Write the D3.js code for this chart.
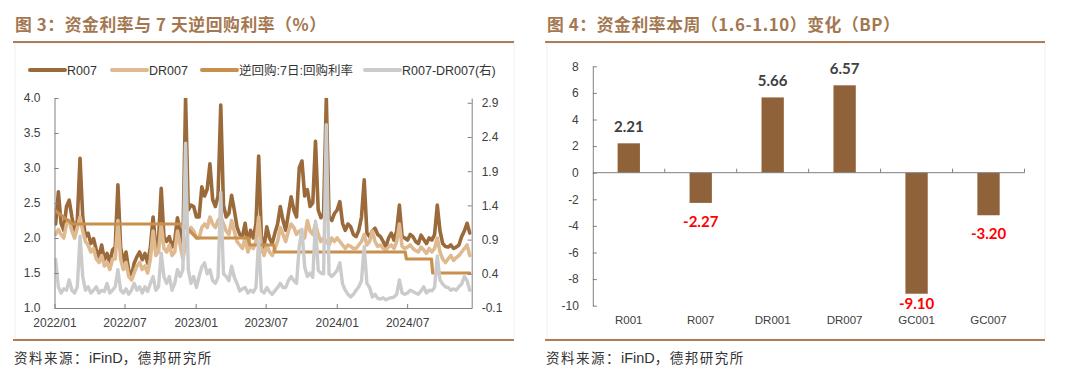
<!DOCTYPE html>
<html>
<head>
<meta charset="utf-8">
<script src="https://cdn.jsdelivr.net/npm/d3@7/dist/d3.min.js"></script>
<style>
  body { margin: 0; background: #fff; }
  svg text { font-family: "Liberation Sans", Arial, sans-serif; }
</style>
</head>
<body>
<svg id="chart" width="1080" height="385"></svg>
<script>
// ---- data: weekly samples from 2022-01-04 ----
const firstWeek = new Date(2022, 0, 4);

const r007 = [
  2.2, 2.66, 2.21, 2.11, 2.45, 2.54, 2.3, 2.1, 2.25, 3.14,
  2.3, 2.02, 2.07, 1.92, 1.99, 1.83, 1.73, 1.9, 1.69, 1.78,
  1.64, 1.83, 1.87, 2.76, 1.87, 1.64, 1.8, 1.54, 1.45, 1.64,
  1.73, 1.8, 1.69, 1.78, 1.64, 1.87, 2.3, 1.87, 1.97, 2.71,
  2.02, 1.95, 2.02, 1.87, 1.97, 2.29, 2.07, 1.87, 4.0, 2.4,
  2.47, 2.45, 2.3, 2.3, 2.73, 2.6, 2.7, 3.06, 2.55, 2.45,
  2.6, 3.9, 2.47, 2.3, 2.35, 2.61, 2.4, 2.16, 2.05, 2.02,
  2.21, 1.92, 2.11, 2.0, 2.2, 3.17, 2.02, 1.87, 2.16, 2.0,
  1.92, 2.07, 2.2, 2.45, 2.25, 2.11, 2.35, 2.59, 2.4, 2.3,
  3.0, 3.1, 2.6, 2.69, 2.45, 2.5, 3.38, 2.4, 2.29, 2.35,
  4.0, 2.3, 2.25, 2.35, 2.4, 2.52, 2.21, 2.11, 2.2, 2.16,
  2.05, 2.02, 2.11, 2.3, 2.83, 2.07, 2.02, 2.1, 2.14, 2.05,
  2.02, 1.95, 1.87, 2.0, 2.07, 1.97, 2.1, 2.47, 2.02, 2.0,
  1.97, 2.05, 2.02, 1.95, 1.92, 2.04, 1.98, 1.92, 2.0, 1.97,
  2.05, 2.47, 2.1, 1.92, 1.88, 1.87, 1.9, 1.85, 1.87, 1.9,
  2.02, 2.1, 2.21, 2.07
];

const dr007 = [
  2.05, 2.12, 2.05, 2.0, 2.2, 2.25, 2.1, 2.0, 2.15, 2.3,
  2.1, 1.95, 1.9, 1.8, 1.85, 1.7, 1.65, 1.75, 1.6, 1.65,
  1.55, 1.7, 1.7, 2.25, 1.7, 1.55, 1.65, 1.45, 1.4, 1.5,
  1.6, 1.65, 1.55, 1.6, 1.5, 1.7, 2.1, 1.75, 1.8, 2.2,
  1.85, 1.8, 1.9, 1.75, 1.8, 2.1, 1.9, 1.7, 1.9, 2.1,
  2.15, 2.1, 2.0, 2.0, 2.15, 2.2, 2.15, 2.3, 2.2, 2.15,
  2.25, 2.3, 2.2, 2.1, 2.05, 2.25, 2.1, 1.95, 1.9, 1.85,
  2.0, 1.8, 1.9, 1.85, 1.95, 2.3, 1.85, 1.75, 1.9, 1.8,
  1.75, 1.85, 1.95, 2.15, 2.05, 1.95, 2.1, 2.2, 2.15, 2.05,
  2.1, 2.05, 2.0, 2.25, 2.1, 2.05, 2.2, 2.05, 1.95, 2.0,
  1.95, 1.9, 2.0, 1.95, 2.0, 1.95, 1.9, 1.85, 1.9, 1.88,
  1.85, 1.85, 1.9, 1.95, 2.05, 1.9, 1.95, 2.1, 1.95, 1.88,
  1.9, 1.85, 1.83, 1.87, 1.9, 1.85, 1.95, 2.2, 1.88, 1.85,
  1.87, 1.9, 1.85, 1.82, 1.8, 1.87, 1.83, 1.78, 1.85, 1.8,
  1.85, 2.0, 1.8, 1.7, 1.65, 1.7, 1.75, 1.68, 1.72, 1.75,
  1.8, 1.85, 1.9, 1.75
];

// R007-DR007, right axis
const spread = [
  0.61, 0.21, 0.12, 0.18, 0.16, 0.31, 0.16, 0.12, 0.21, 0.95,
  0.36, 0.16, 0.21, 0.12, 0.16, 0.21, 0.12, 0.16, 0.14, 0.26,
  0.12, 0.16, 0.21, 0.46, 0.16, 0.12, 0.18, 0.1, 0.16, 0.26,
  0.16, 0.21, 0.12, 0.21, 0.14, 0.26, 0.36, 0.16, 0.21, 0.7,
  0.36, 0.26, 0.36, 0.16, 0.26, 0.46, 0.36, 0.46, 2.31, 0.46,
  0.26, 0.36, 0.2, 0.36, 0.5, 0.56, 0.4, 0.46, 0.3, 0.26,
  0.35, 1.59, 0.4, 0.36, 0.3, 0.51, 0.35, 0.26, 0.15, 0.18,
  0.2, 0.12, 0.16, 0.13, 0.2, 0.9, 0.15, 0.12, 0.2, 0.14,
  0.1, 0.15, 0.2, 0.26, 0.2, 0.2, 0.3, 0.36, 0.3, 0.26,
  0.8, 1.05, 0.5, 0.36, 0.41, 0.35, 1.17, 0.45, 0.41, 0.4,
  2.58, 0.4, 0.36, 0.4, 0.45, 0.56, 0.25, 0.16, 0.1, 0.06,
  0.1, 0.16, 0.21, 0.3, 0.8, 0.26, 0.2, 0.06, 0.1, 0.04,
  0.03, 0.05, 0.02, 0.04, 0.05, 0.06, 0.1, 0.31, 0.12, 0.1,
  0.12, 0.16, 0.14, 0.12, 0.1, 0.15, 0.21, 0.12, 0.16, 0.15,
  0.2, 0.66, 0.31, 0.25, 0.21, 0.2, 0.16, 0.18, 0.16, 0.21,
  0.25, 0.36, 0.3, 0.16
];

// 逆回购:7日:回购利率
const repoDates = ["2022-01-01", "2022-02-17", "2022-11-29", "2023-01-04", "2023-05-18", "2023-05-21",
  "2023-07-22", "2023-07-25", "2024-06-26", "2024-06-29", "2024-09-02", "2024-09-05", "2024-12-10"];
const repoRate = [2.4, 2.2, 2.2, 2.0, 2.0, 1.9, 1.9, 1.8, 1.8, 1.7, 1.7, 1.5, 1.5];

const xTickDates = ["2022-01-01", "2022-07-01", "2023-01-01", "2023-07-01", "2024-01-01", "2024-07-01"];
const leftTicks = [1.0, 1.5, 2.0, 2.5, 3.0, 3.5, 4.0];
const rightTicks = [-0.1, 0.4, 0.9, 1.4, 1.9, 2.4, 2.9];

// 图4
const barCats = ["R001", "R007", "DR001", "DR007", "GC001", "GC007"];
const barVals = [2.21, -2.27, 5.66, 6.57, -9.10, -3.20];
const barTicks = [-10, -8, -6, -4, -2, 0, 2, 4, 6, 8];

// ---- styles ----
const BROWN_TITLE = "#a3774f";
const RULE = "#b07d57";
const AXIS = "#808080";
const TXT = "#404040";
const C_R007 = "#9b6a3b";
const C_DR007 = "#dfb98f";
const C_REPO = "#c88f4d";
const C_SPREAD = "#cbcbcb";
const C_BAR = "#8f6239";

// plain hyphen for negatives, like the source
const fmt1 = v => d3.format(".1f")(v).replace("\u2212", "-");
const fmt0 = v => d3.format("d")(v).replace("\u2212", "-");

const svg = d3.select("#chart");
const parse = d3.timeParse("%Y-%m-%d");

// panel chrome: title, top/bottom rules, faint frame, source
function panel(x0, x1, title) {
  svg.append("rect")
    .attr("x", x0 + 2).attr("y", 43).attr("width", x1 - x0 - 2).attr("height", 296)
    .attr("fill", "none").attr("stroke", "#f0f0f0");
  svg.append("line").attr("x1", x0).attr("x2", x1).attr("y1", 42).attr("y2", 42)
    .attr("stroke", RULE).attr("stroke-width", 2);
  svg.append("line").attr("x1", x0).attr("x2", x1).attr("y1", 340).attr("y2", 340)
    .attr("stroke", RULE).attr("stroke-width", 2);
  svg.append("text").attr("x", x0 + 2).attr("y", 31)
    .attr("fill", BROWN_TITLE).attr("font-size", 16.8).attr("font-weight", "bold")
    .attr("letter-spacing", 0.6)
    .style("font-family", "'Noto Sans CJK SC', sans-serif")
    .text(title);
  const src = svg.append("text").attr("x", x0 + 1).attr("y", 363)
    .attr("fill", "#333").attr("font-size", 13.5);
  src.append("tspan").attr("letter-spacing", 1.5)
    .style("font-family", "'Noto Sans CJK SC', serif").text("资料来源：");
  src.append("tspan").attr("font-size", 14.5).text("iFinD");
  src.append("tspan").attr("letter-spacing", 1.5)
    .style("font-family", "'Noto Sans CJK SC', serif").text("，德邦研究所");
}

panel(13, 514, "图 3：资金利率与 7 天逆回购利率（%）");
panel(545, 1045, "图 4：资金利率本周（1.6-1.10）变化（BP）");

// ================= left chart =================
const L = { left: 54.5, right: 471.7, top: 98, bottom: 308 };

const x = d3.scaleTime()
  .domain([parse("2022-01-01"), parse("2024-12-15")])
  .range([L.left, L.right]);
const yL = d3.scaleLinear().domain([1, 4]).range([L.bottom, L.top]);
const yR = d3.scaleLinear().domain([-0.1, 2.97]).range([L.bottom, L.top]);

const weeks = r007.map((_, i) => d3.timeDay.offset(firstWeek, 7 * i));

svg.append("clipPath").attr("id", "plotClip")
  .append("rect")
  .attr("x", L.left).attr("y", L.top)
  .attr("width", L.right - L.left).attr("height", L.bottom - L.top);

const plot = svg.append("g").attr("clip-path", "url(#plotClip)");

function drawSeries(dates, vals, yScale, color, width) {
  const line = d3.line()
    .x((d, i) => x(dates[i]))
    .y(d => yScale(d));
  plot.append("path")
    .datum(vals)
    .attr("d", line)
    .attr("fill", "none")
    .attr("stroke", color)
    .attr("stroke-width", width)
    .attr("stroke-linejoin", "round")
    .attr("stroke-linecap", "round");
}

drawSeries(weeks, r007, yL, C_R007, 3.6);
drawSeries(weeks, dr007, yL, C_DR007, 3.6);
drawSeries(repoDates.map(parse), repoRate, yL, C_REPO, 3.2);
drawSeries(weeks, spread, yR, C_SPREAD, 3.4);

// axes
function styleAxis(g) {
  g.select(".domain").attr("stroke", AXIS);
  g.selectAll(".tick line").attr("stroke", AXIS);
  g.selectAll(".tick text").attr("fill", TXT).attr("font-size", 12)
    .style("font-family", "'Liberation Sans', Arial, sans-serif");
}

svg.append("g")
  .attr("transform", `translate(${L.left},0)`)
  .call(d3.axisLeft(yL).tickValues(leftTicks).tickFormat(fmt1)
    .tickSizeInner(-4).tickSizeOuter(0).tickPadding(14))
  .call(styleAxis);

svg.append("g")
  .attr("transform", `translate(${L.right},0)`)
  .call(d3.axisRight(yR).tickValues(rightTicks).tickFormat(fmt1)
    .tickSizeInner(-4).tickSizeOuter(0).tickPadding(10))
  .call(styleAxis);

svg.append("g")
  .attr("transform", `translate(0,${L.bottom})`)
  .call(d3.axisBottom(x).tickValues(xTickDates.map(parse)).tickFormat(d3.timeFormat("%Y/%m"))
    .tickSizeInner(-4).tickSizeOuter(0).tickPadding(10))
  .call(styleAxis);

// legend
const legendItems = [
  { name: "R007", color: C_R007, x: 30 },
  { name: "DR007", color: C_DR007, x: 112 },
  { name: "逆回购:7日:回购利率", color: C_REPO, x: 202 },
  { name: "R007-DR007(右)", color: C_SPREAD, x: 365 }
];
const lg = svg.append("g").attr("transform", "translate(0,70)");
legendItems.forEach(it => {
  lg.append("line").attr("x1", it.x).attr("x2", it.x + 35).attr("y1", 0).attr("y2", 0)
    .attr("stroke", it.color).attr("stroke-width", 4).attr("stroke-linecap", "round");
  lg.append("text").attr("x", it.x + 37).attr("y", 4.5)
    .attr("fill", "#333").attr("font-size", 12.5)
    .style("font-family", "'Liberation Sans', 'Noto Sans CJK SC', sans-serif")
    .text(it.name);
});

// ================= right chart =================
const B = { left: 592.8, right: 1024.5, top: 66.3, bottom: 305.7 };

const xb = d3.scaleBand().domain(barCats).range([B.left, B.right])
  .paddingInner(0.69).paddingOuter(0.345);
const yb = d3.scaleLinear().domain([-10, 8]).range([B.bottom, B.top]);

svg.append("g").selectAll("rect")
  .data(barVals)
  .join("rect")
  .attr("x", (d, i) => xb(barCats[i]))
  .attr("width", xb.bandwidth())
  .attr("y", d => yb(Math.max(0, d)))
  .attr("height", d => Math.abs(yb(d) - yb(0)))
  .attr("fill", C_BAR);

// y axis
svg.append("g")
  .attr("transform", `translate(${B.left},0)`)
  .call(d3.axisLeft(yb).tickValues(barTicks).tickFormat(fmt0)
    .tickSizeInner(-4).tickSizeOuter(0).tickPadding(14))
  .call(styleAxis);

// category axis at zero
const zeroY = yb(0);
svg.append("line").attr("x1", B.left).attr("x2", B.right).attr("y1", zeroY).attr("y2", zeroY)
  .attr("stroke", AXIS);
svg.append("g").selectAll("line")
  .data(barCats)
  .join("line")
  .attr("x1", d => xb(d) - xb.step() * xb.paddingInner() / 2 + xb.step())
  .attr("x2", d => xb(d) - xb.step() * xb.paddingInner() / 2 + xb.step())
  .attr("y1", zeroY - 4).attr("y2", zeroY)
  .attr("stroke", AXIS);

svg.append("g").selectAll("text")
  .data(barCats)
  .join("text")
  .attr("x", d => xb(d) + xb.bandwidth() / 2)
  .attr("y", 323.5)
  .attr("text-anchor", "middle")
  .attr("fill", TXT).attr("font-size", 11.5)
  .text(d => d);

// value labels
svg.append("g").selectAll("text")
  .data(barVals)
  .join("text")
  .attr("x", (d, i) => xb(barCats[i]) + xb.bandwidth() / 2)
  .attr("y", d => d >= 0 ? yb(d) - 11 : Math.min(yb(d) + 24, 309))
  .attr("text-anchor", "middle")
  .attr("font-size", 15).attr("font-weight", "bold")
  .style("font-family", "Lato, 'Open Sans', sans-serif")
  .attr("fill", d => d >= 0 ? "#404040" : "#ff0000")
  .text(d => d.toFixed(2));
</script>
</body>
</html>
